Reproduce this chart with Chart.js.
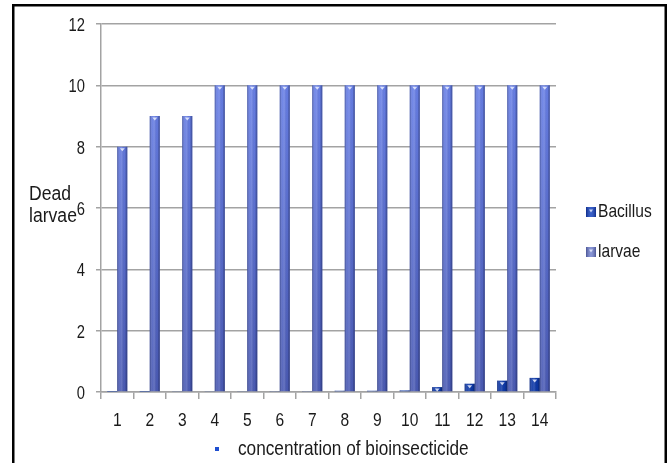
<!DOCTYPE html>
<html>
<head>
<meta charset="utf-8">
<script src="https://cdn.jsdelivr.net/npm/chart.js@4/dist/chart.umd.min.js"></script>
<style>
  html, body { margin: 0; padding: 0; background: #fff; }
  #wrap { position: relative; width: 671px; height: 463px; }
  canvas { display: block; }
</style>
</head>
<body>
<div id="wrap"><canvas id="c" width="671" height="463"></canvas></div>
<script>
// Concentration levels along the x axis
const categories = ['1', '2', '3', '4', '5', '6', '7', '8', '9', '10', '11', '12', '13', '14'];
// Dead larvae counts per series
const bacillus = [0.01, 0.01, 0.02, 0.02, 0.02, 0.03, 0.03, 0.04, 0.04, 0.05, 0.16, 0.27, 0.37, 0.46];
const larvae = [8, 9, 9, 10, 10, 10, 10, 10, 10, 10, 10, 10, 10, 10];
const seriesNames = ['Bacillus', 'larvae'];
const yMin = 0, yMax = 12, yStep = 2;

const FONT = "'Liberation Sans', Arial, sans-serif";
const TEXT = '#1a1a1a';
const GRID = '#a3a3a3';
const NARROW = 0.82;   // horizontal squeeze for the condensed lettering

// draws condensed text: x is the anchor, y the baseline
function narrowText(ctx, text, x, y, size, align, squeeze) {
  const k = squeeze || NARROW;
  ctx.save();
  ctx.font = size + 'px ' + FONT;
  ctx.textBaseline = 'alphabetic';
  ctx.textAlign = align;
  ctx.translate(x, y);
  ctx.scale(k, 1);
  ctx.fillText(text, 0, 0);
  ctx.restore();
}

// vertical colour ramps for the two series
function ramp(top, bottom) {
  return (c) => {
    const area = c.chart.chartArea;
    if (!area) return bottom;
    const g = c.chart.ctx.createLinearGradient(0, area.top, 0, area.bottom);
    g.addColorStop(0, top);
    g.addColorStop(1, bottom);
    return g;
  };
}

// cylinder-like shading with a small marker on each bar top
const barShading = {
  id: 'barShading',
  afterDatasetsDraw(chart) {
    const ctx = chart.ctx;
    chart.data.datasets.forEach((ds, di) => {
      const meta = chart.getDatasetMeta(di);
      meta.data.forEach((bar) => {
        const p = bar.getProps(['x', 'y', 'base', 'width'], true);
        const l = p.x - p.width / 2, r = p.x + p.width / 2;
        const h = p.base - p.y;
        if (h <= 0) return;
        ctx.save();
        const g = ctx.createLinearGradient(l, 0, r, 0);
        g.addColorStop(0, 'rgba(10,20,70,0.45)');
        g.addColorStop(0.25, 'rgba(255,255,255,0.08)');
        g.addColorStop(0.45, 'rgba(255,255,255,0.16)');
        g.addColorStop(0.75, 'rgba(0,0,0,0)');
        g.addColorStop(1, 'rgba(10,20,70,0.45)');
        ctx.fillStyle = g;
        ctx.fillRect(l, p.y, p.width, h);
        if (h > 3) {
          ctx.fillStyle = 'rgba(235,240,255,0.85)';
          ctx.beginPath();
          ctx.moveTo(p.x - 2.5, p.y + 1.5);
          ctx.lineTo(p.x + 2.5, p.y + 1.5);
          ctx.lineTo(p.x, p.y + 4.5);
          ctx.closePath();
          ctx.fill();
        }
        ctx.restore();
      });
    });
  }
};

// frame, tick labels, axis titles and legend
const decorations = {
  id: 'decorations',
  afterDraw(chart) {
    const ctx = chart.ctx;
    const xs = chart.scales.x, ys = chart.scales.y;
    ctx.save();
    // frame
    ctx.strokeStyle = '#000';
    ctx.lineWidth = 2.5;
    ctx.beginPath();
    ctx.moveTo(13.25, 470);
    ctx.lineTo(13.25, 5.25);
    ctx.lineTo(665.75, 5.25);
    ctx.lineTo(665.75, 470);
    ctx.stroke();

    ctx.fillStyle = TEXT;
    // y tick labels
    ys.ticks.forEach((t, i) => {
      narrowText(ctx, String(t.value), ys.left + ys.width - 16, ys.getPixelForTick(i) + 7, 18, 'right');
    });
    // x tick labels
    xs.ticks.forEach((t, i) => {
      narrowText(ctx, categories[t.value], xs.getPixelForTick(i), 426, 19, 'center');
    });

    // y title
    narrowText(ctx, 'Dead', 29, 200, 20, 'left', 0.88);
    narrowText(ctx, 'larvae', 29, 222, 20, 'left', 0.88);

    // x title with its marker
    ctx.fillStyle = '#1f4fd0';
    ctx.fillRect(215, 447, 4, 4);
    ctx.fillStyle = TEXT;
    narrowText(ctx, 'concentration of bioinsecticide', 238, 455, 21, 'left');

    // legend
    const boxFill = ['#1443c0', '#7282cf'];
    const boxY = [207, 247];
    seriesNames.forEach((name, i) => {
      ctx.fillStyle = boxFill[i];
      ctx.fillRect(586, boxY[i], 10, 10);
      const g = ctx.createLinearGradient(586, 0, 596, 0);
      g.addColorStop(0, 'rgba(0,0,40,0.35)');
      g.addColorStop(0.5, 'rgba(255,255,255,0.15)');
      g.addColorStop(1, 'rgba(0,0,40,0.35)');
      ctx.fillStyle = g;
      ctx.fillRect(586, boxY[i], 10, 10);
      ctx.fillStyle = 'rgba(235,240,255,0.8)';
      ctx.beginPath();
      ctx.moveTo(589, boxY[i] + 2.5);
      ctx.lineTo(593, boxY[i] + 2.5);
      ctx.lineTo(591, boxY[i] + 5.5);
      ctx.closePath();
      ctx.fill();
      ctx.fillStyle = TEXT;
      narrowText(ctx, name, 598, boxY[i] + 10, 19, 'left');
    });
    ctx.restore();
  }
};

new Chart(document.getElementById('c'), {
  type: 'bar',
  data: {
    labels: categories,
    datasets: [
      {
        label: seriesNames[0],
        data: bacillus,
        backgroundColor: ramp('#2458e0', '#0c37a6'),
        barPercentage: 1,
        categoryPercentage: 0.62
      },
      {
        label: seriesNames[1],
        data: larvae,
        backgroundColor: ramp('#6d86f0', '#4a5ab4'),
        barPercentage: 1,
        categoryPercentage: 0.62
      }
    ]
  },
  options: {
    responsive: false,
    devicePixelRatio: 1,
    animation: false,
    layout: { padding: { left: 0, top: 24, right: 115, bottom: 0 } },
    plugins: {
      legend: { display: false },
      tooltip: { enabled: false }
    },
    scales: {
      x: {
        offset: true,
        grid: {
          offset: true,
          drawOnChartArea: false,
          drawTicks: true,
          tickLength: 7,
          color: GRID,
          lineWidth: 1.5
        },
        border: { color: GRID, width: 1.5 },
        ticks: { display: false },
        afterFit(s) { s.height = 71; }
      },
      y: {
        min: yMin,
        max: yMax,
        ticks: { stepSize: yStep, display: false },
        grid: {
          color: GRID,
          lineWidth: 1.5,
          tickLength: 5
        },
        border: { color: GRID, width: 1.5 },
        afterFit(s) { s.width = 101; }
      }
    }
  },
  plugins: [barShading, decorations]
});
</script>
</body>
</html>
